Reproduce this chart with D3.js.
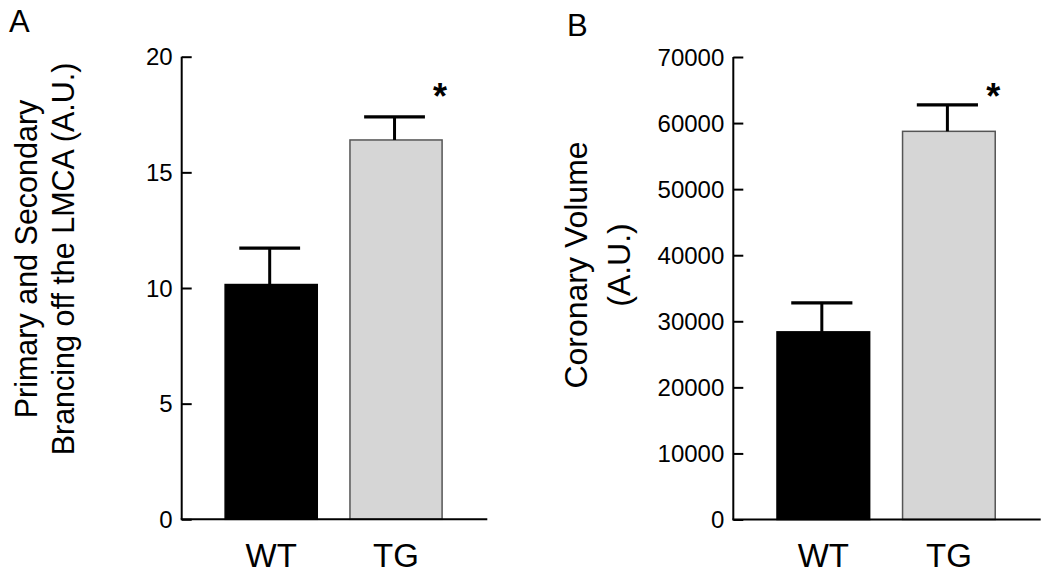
<!DOCTYPE html>
<html>
<head>
<meta charset="utf-8">
<script src="https://cdn.jsdelivr.net/npm/d3@7"></script>
<style>
  html, body { margin: 0; padding: 0; background: #fff; }
  svg { display: block; }
  text { font-family: "Liberation Sans", Arial, Helvetica, sans-serif; fill: #000; }
</style>
</head>
<body>
<svg id="chart" width="1050" height="586"></svg>
<script>
// ---- data ----
const categories = ["WT", "TG"];
const branchingMeans = [10.15, 16.4];
const branchingErrors = [1.57, 1.0];
const branchingTicks = [0, 5, 10, 15, 20];
const branchingTitle = ["Primary and Secondary", "Brancing off the LMCA (A.U.)"];

const volumeMeans = [28400, 58750];
const volumeErrors = [4400, 4000];
const volumeTicks = [0, 10000, 20000, 30000, 40000, 50000, 60000, 70000];
const volumeTitle = ["Coronary Volume", "(A.U.)"];

const panelLabels = ["A", "B"];
const significance = ["", "*"];
const barFills = ["#000000", "#d6d6d6"];
const barStrokes = ["#000000", "#555555"];

// ---- drawing ----
const svg = d3.select("#chart");

const panels = [
  {
    label: panelLabels[0], means: branchingMeans, errors: branchingErrors,
    ticks: branchingTicks, title: branchingTitle, titleSize: 30.5,
    axisX: 181.7, axisEnd: 487.3, yTop: 56.7, yBottom: 519.3,
    labelPos: [9, 32], titleX: [37, 74], titleY: 259
  },
  {
    label: panelLabels[1], means: volumeMeans, errors: volumeErrors,
    ticks: volumeTicks, title: volumeTitle, titleSize: 32,
    axisX: 733.3, axisEnd: 1040.7, yTop: 57, yBottom: 519.5,
    labelPos: [567, 36], titleX: [587, 630], titleY: 265
  }
];

panels.forEach(p => {
  const g = svg.append("g");
  const y = d3.scaleLinear()
    .domain([p.ticks[0], p.ticks[p.ticks.length - 1]])
    .range([p.yBottom, p.yTop]);
  const x = d3.scaleBand()
    .domain(categories)
    .range([p.axisX, p.axisEnd])
    .paddingInner(0.262)
    .paddingOuter(0.355)
    .align(0.49);

  // bars
  g.selectAll("rect.bar").data(categories).enter().append("rect")
    .attr("class", "bar")
    .attr("x", d => x(d))
    .attr("width", x.bandwidth())
    .attr("y", (d, i) => y(p.means[i]))
    .attr("height", (d, i) => y(0) - y(p.means[i]))
    .attr("fill", (d, i) => barFills[i])
    .attr("stroke", (d, i) => barStrokes[i])
    .attr("stroke-width", 1.5);

  // error bars
  const capW = x.bandwidth() * 0.66;
  categories.forEach((c, i) => {
    const cx = x(c) + x.bandwidth() / 2 - 1.5;
    g.append("line")
      .attr("x1", cx).attr("x2", cx)
      .attr("y1", y(p.means[i])).attr("y2", y(p.means[i] + p.errors[i]))
      .attr("stroke", "#000").attr("stroke-width", 3);
    g.append("line")
      .attr("x1", cx - capW / 2).attr("x2", cx + capW / 2)
      .attr("y1", y(p.means[i] + p.errors[i])).attr("y2", y(p.means[i] + p.errors[i]))
      .attr("stroke", "#000").attr("stroke-width", 3.2);
    if (significance[i]) {
      g.append("text")
        .attr("x", x(c) + x.bandwidth() - 2)
        .attr("y", 109)
        .attr("text-anchor", "middle")
        .attr("font-size", 36)
        .attr("font-weight", "bold")
        .text(significance[i]);
    }
  });

  // y axis (ticks pointing inward)
  const yAxis = d3.axisRight(y).tickValues(p.ticks).tickSize(10).tickFormat("");
  const ya = g.append("g").attr("transform", `translate(${p.axisX},0)`).call(yAxis);
  ya.select(".domain").attr("d", `M0,${p.yTop}V${p.yBottom}`).attr("stroke", "#000").attr("stroke-width", 2);
  ya.selectAll(".tick line").attr("stroke", "#000").attr("stroke-width", 2);

  g.selectAll("text.ytick").data(p.ticks).enter().append("text")
    .attr("class", "ytick")
    .attr("x", p.axisX - 9)
    .attr("y", d => y(d))
    .attr("dy", "0.36em")
    .attr("text-anchor", "end")
    .attr("font-size", 24)
    .text(d => d);

  // x axis
  g.append("line")
    .attr("x1", p.axisX - 1).attr("x2", p.axisEnd)
    .attr("y1", p.yBottom).attr("y2", p.yBottom)
    .attr("stroke", "#000").attr("stroke-width", 2);

  g.selectAll("text.xlab").data(categories).enter().append("text")
    .attr("class", "xlab")
    .attr("x", d => x(d) + x.bandwidth() / 2)
    .attr("y", 567)
    .attr("text-anchor", "middle")
    .attr("font-size", 33)
    .text(d => d);

  // y title
  p.title.forEach((t, k) => {
    g.append("text")
      .attr("transform", `translate(${p.titleX[k]},${p.titleY}) rotate(-90)`)
      .attr("text-anchor", "middle")
      .attr("font-size", p.titleSize)
      .text(t);
  });

  // panel label
  g.append("text")
    .attr("x", p.labelPos[0]).attr("y", p.labelPos[1])
    .attr("font-size", 31)
    .text(p.label);
});
</script>
</body>
</html>
